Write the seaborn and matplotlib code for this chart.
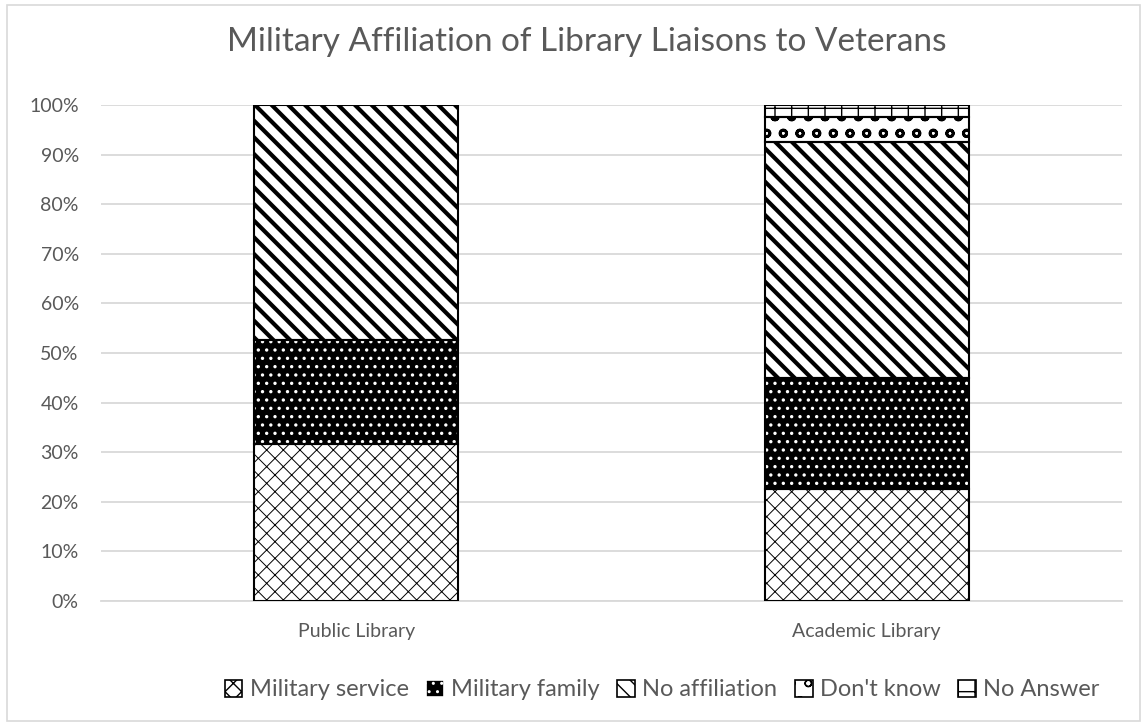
import numpy as np
import pandas as pd
import matplotlib
matplotlib.use("Agg")
import matplotlib.pyplot as plt
from matplotlib.patches import Patch, Rectangle
from matplotlib.ticker import PercentFormatter
import seaborn as sns

# Data (share of respondents per library type)
libraries = ["Public Library", "Academic Library"]
categories = ["Military service", "Military family", "No affiliation", "Don't know", "No Answer"]
military_service = [31.6, 22.5]
military_family = [21.0, 22.5]
no_affiliation = [47.4, 47.5]
dont_know = [0.0, 5.0]
no_answer = [0.0, 2.5]

sns.set_theme(style="white")
plt.rcParams["font.family"] = ["Lato", "DejaVu Sans"]
plt.rcParams["hatch.linewidth"] = 1.0

text_col = "#595959"
grid_col = "#d9d9d9"

# fill style per segment: (facecolor, hatch colour, hatch, hatch lw)
styles = {
    "Military service": ("white", "black", "xx", 0.7),
    "Military family": ("black", "white", "..", 1.2),
    "No affiliation": ("white", "black", "\\\\", 3.0),
    "Don't know": ("white", "black", "o", 2.0),
    "No Answer": ("white", "black", "+", 1.0),
}

df = pd.DataFrame({
    "library": libraries,
    "Military service": military_service,
    "Military family": military_family,
    "No affiliation": no_affiliation,
    "Don't know": dont_know,
    "No Answer": no_answer,
})

fig = plt.figure(figsize=(11.47, 7.27), dpi=100)
ax = fig.add_axes([101 / 1147, 1 - 601 / 727, (1122 - 101) / 1147, (601 - 105) / 727])

bottom = np.zeros(len(df))
for cat in categories:
    face, hcol, hatch, hlw = styles[cat]
    vals = df[cat].values
    sns.barplot(data=df, x="library", y=cat, ax=ax, width=0.4, bottom=bottom,
                color=face, edgecolor=hcol, hatch=hatch, linewidth=0,
                saturation=1, errorbar=None)
    new = ax.patches[-len(df):]
    for p in new:
        p.set_facecolor(face)
        if hasattr(p, "set_hatch_linewidth"):
            p.set_hatch_linewidth(hlw)
    # black outline on top of each segment
    for p, v in zip(new, vals):
        if v > 0:
            ax.add_patch(Rectangle((p.get_x(), p.get_y()), p.get_width(), p.get_height(),
                                   fill=False, edgecolor="black", linewidth=1.5, zorder=3))
    bottom = bottom + vals

ax.set_xlim(-0.5, 1.5)
ax.set_ylim(0, 100)
ax.set_yticks(np.arange(0, 101, 10))
ax.yaxis.set_major_formatter(PercentFormatter(decimals=0))
ax.set_xlabel("")
ax.set_ylabel("")
ax.grid(axis="y", color=grid_col, linewidth=1.3)
ax.set_axisbelow(True)
for s in ["left", "right", "top"]:
    ax.spines[s].set_visible(False)
ax.spines["bottom"].set_color(grid_col)
ax.spines["bottom"].set_linewidth(1.3)
ax.tick_params(axis="both", labelsize=14, colors=text_col, length=0)
ax.tick_params(axis="x", pad=16)
ax.tick_params(axis="y", pad=16)

fig.text(587 / 1147, 1 - 42 / 727, "Military Affiliation of Library Liaisons to Veterans",
         ha="center", va="center", fontsize=24, color=text_col)

handles = []
for cat in categories:
    face, hcol, hatch, hlw = styles[cat]
    h = Patch(facecolor=face, edgecolor=hcol if face == "black" else "black", hatch=hatch, linewidth=1.2)
    handles.append(h)
fig.legend(handles, categories, loc="center", bbox_to_anchor=(662 / 1147, 1 - 690 / 727),
           ncol=5, frameon=False, fontsize=17, handlelength=0.75, handleheight=0.75,
           handletextpad=0.3, columnspacing=0.75, labelcolor=text_col)

fig.add_artist(Rectangle((7 / 1147, 1 - 721 / 727), 1133 / 1147, 716 / 727,
                         transform=fig.transFigure, fill=False, edgecolor=grid_col, linewidth=1.2))

fig.savefig("out.png", dpi=100, facecolor="white")
